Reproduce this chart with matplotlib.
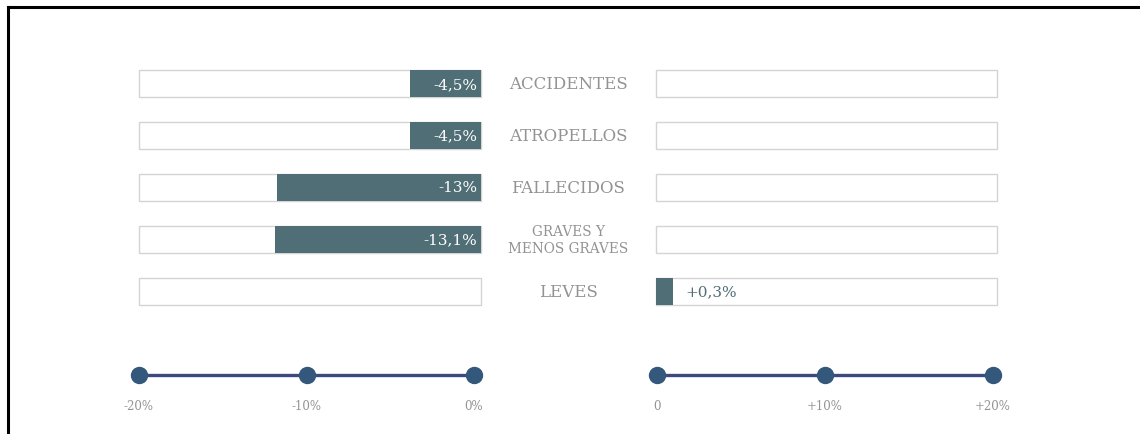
import matplotlib as mpl
mpl.use('Agg')
import matplotlib.pyplot as plt
from matplotlib import transforms
from matplotlib.lines import Line2D

categories = ['ACCIDENTES', 'ATROPELLOS', 'FALLECIDOS',
              'GRAVES Y\nMENOS GRAVES', 'LEVES']
values = [-4.5, -4.5, -13.0, -13.1, 0.3]
value_labels = ['-4,5%', '-4,5%', '-13%', '-13,1%', '+0,3%']

left_ticks = [-20, -10, 0]
left_tick_labels = ['-20%', '-10%', '0%']
right_ticks = [0, 10, 20]
right_tick_labels = ['0', '+10%', '+20%']

# figure geometry in pixels
W, H = 1140, 435
dpi = 100
bar_max = 21.8          # extent of the grey boxes, in %
min_pos_width = 1.1     # a tiny positive bar is drawn with a minimum width

bar_col = '#4f6e76'
txt_col = '#939393'
box_edge = '#d4d4d4'
line_col = '#3c4a80'
dot_col = '#34577c'

plt.rcParams['font.family'] = ['DejaVu Serif']

fig = plt.figure(figsize=(W/dpi, H/dpi), dpi=dpi)
fig.patch.set_facecolor('white')

def px_axes(x0, x1, ytop, ybot):
    return fig.add_axes([x0/W, (H-ybot)/H, (x1-x0)/W, (ybot-ytop)/H])

n = len(categories)
rows = list(range(n))
axL = px_axes(139, 481, 59, 318)
axR = px_axes(656, 997, 59, 318)

for ax in (axL, axR):
    ax.set_ylim(n-0.5, -0.5)
    ax.axis('off')
axL.set_xlim(-bar_max, 0)
axR.set_xlim(0, bar_max)

bh = 0.52
for ax, sign in ((axL, -1), (axR, 1)):
    boxes = ax.barh(rows, [sign*bar_max]*n, height=bh, color='white',
                    edgecolor=box_edge, linewidth=1.0)
    for b in boxes:
        b.set_clip_on(False)

for i, v in enumerate(values):
    if v < 0:
        axL.barh(i, v, height=bh, color=bar_col, linewidth=0)
        axL.text(-0.25, i, value_labels[i], color='white', fontsize=11,
                 ha='right', va='center')
    else:
        w = max(v, min_pos_width)
        axR.barh(i, w, height=bh, color=bar_col, linewidth=0)
        axR.text(w + 0.8, i, value_labels[i], color=bar_col, fontsize=11,
                 ha='left', va='center')

trans = transforms.blended_transform_factory(fig.transFigure, axL.transData)
for i, c in enumerate(categories):
    if '\n' in c:
        fig.text(568/W, i, c, transform=trans, color=txt_col, fontsize=9.8,
                 ha='center', va='center', linespacing=1.25)
    else:
        fig.text(568/W, i, c, transform=trans, color=txt_col, fontsize=12,
                 ha='center', va='center')

# scale lines at the bottom
def scale(x0, x1, ticks, labels):
    ax = px_axes(x0, x1, 366, 386)
    ax.set_xlim(ticks[0], ticks[-1])
    ax.set_ylim(-1, 1)
    ax.plot(ticks, [0]*len(ticks), color=line_col, lw=2.4,
            marker='o', ms=11.5, mfc=dot_col, mec=dot_col, clip_on=False)
    ax.set_xticks(ticks)
    ax.set_xticklabels(labels, color=txt_col, fontsize=8.5)
    ax.tick_params(axis='x', length=0, pad=10)
    ax.set_yticks([])
    for s in ax.spines.values():
        s.set_visible(False)
    ax.patch.set_alpha(0)

scale(139, 474, left_ticks, left_tick_labels)
scale(657, 993, right_ticks, right_tick_labels)

# black frame on top and left
fig.add_artist(Line2D([8/W, 1], [(H-8)/H, (H-8)/H], color='black', lw=2.2))
fig.add_artist(Line2D([8/W, 8/W], [0, (H-8)/H], color='black', lw=2.2))

fig.savefig('out.png', dpi=dpi)
